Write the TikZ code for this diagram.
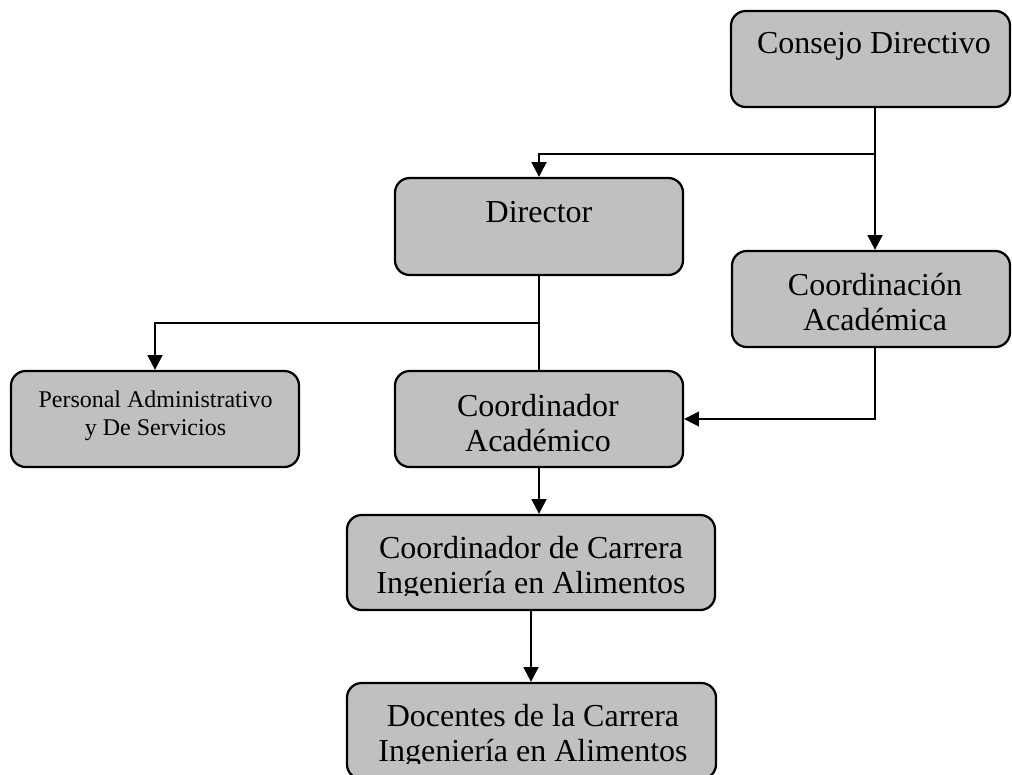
\documentclass[tikz,border=0pt]{standalone}
\usepackage{fontspec}
\setmainfont{Liberation Serif}
\usetikzlibrary{arrows.meta}
\begin{document}
\begin{tikzpicture}[x=0.75pt,y=-0.75pt,
  box/.style 2 args={draw=black, line width=1.7pt, fill=boxgray, rounded corners=11pt,
    inner sep=0pt, minimum width=#1*0.75pt, minimum height=#2*0.75pt},
  big/.style={font=\fontsize{24}{26.25}\selectfont, align=center, anchor=base, inner sep=0pt},
  small/.style={font=\fontsize{18}{21}\selectfont, align=center, anchor=base, inner sep=0pt},
  ln/.style={line width=1.8pt},
  ar/.style={line width=1.8pt, -{Triangle[length=11pt,width=11pt]}},
  arthin/.style={line width=1.2pt, -{Triangle[length=11pt,width=11pt]}}]
\definecolor{boxgray}{HTML}{C0C0C0}
\useasboundingbox (0,0) rectangle (1012,774);
\clip (0,0) rectangle (1012,774);

% boxes
\node[box={279}{96}] (consejo) at (870.5,59) {};
\node[box={288}{97}] (director) at (539,226.5) {};
\node[box={278}{96}] (coordinacion) at (871,299) {};
\node[box={288}{96}] (personal) at (155,419) {};
\node[box={288}{96}] (coordacad) at (539,419) {};
\node[box={368}{95}] (carrera) at (531,562.5) {};
\node[box={369}{96}] (docentes) at (531.5,731) {};

% labels (the base anchor of a two-line label sits on its last line)
\node[big] (tconsejo) at (874,54) {Consejo Directivo};
\node[big] (tdirector) at (539,222) {Director};
\node[big] (tcoordinacion) at (875,330) {Coordinación\\Académica};
\node[small] (tpersonal) at (155.5,435) {Personal Administrativo\\y De Servicios};
\node[big] (tcoordacad) at (538,451) {Coordinador\\Académico};
\begin{scope}
  \clip (347,515) rectangle (715,595);
  \node[big] (tcarrera) at (531,593) {Coordinador de Carrera\\Ingeniería en Alimentos};
\end{scope}
\begin{scope}
  \clip (347,683) rectangle (716,763);
  \node[big] (tdocentes) at (533,761) {Docentes de la Carrera\\Ingeniería en Alimentos};
\end{scope}

% connectors
\coordinate (c1) at (875,154);
\coordinate (c2) at (539,323);
\coordinate (c3) at (875,419);
\draw[ln] (c1 |- consejo.south) -- (c1);
\draw[ar] (c1) -| (director.north);
\draw[ar] (c1) -- (c1 |- coordinacion.north);
\draw[ln] (director.south) -- (c2) -- (coordacad.north);
\draw[ar] (c2) -| (personal.north);
\draw[arthin] (c3 |- coordinacion.south) -- (c3) -- (c3 -| coordacad.east);
\draw[ar] (coordacad.south) -- (coordacad.south |- carrera.north);
\draw[ar] (carrera.south) -- (carrera.south |- docentes.north);
\end{tikzpicture}
\end{document}
